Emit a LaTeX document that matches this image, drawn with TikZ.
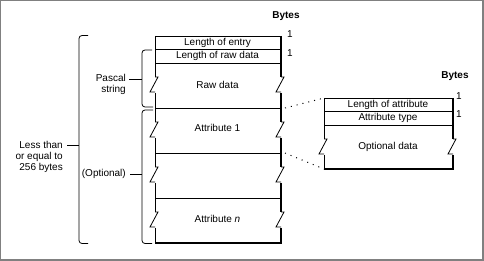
\documentclass[tikz,border=0pt]{standalone}
\usepackage{fontspec}
\setmainfont{Liberation Sans}
\usetikzlibrary{positioning}
\definecolor{framegray}{gray}{0.5}

\begin{document}
\begin{tikzpicture}[x=1pt,y=-1pt,
  lab/.style={font=\fontsize{10}{11}\selectfont,inner sep=0pt},
  bytes/.style={font=\fontsize{10}{11}\selectfont\bfseries,inner sep=0pt},
  boxline/.style={line width=0.8pt},
  shadowline/.style={line width=2.6pt},
  brace/.style={line width=0.8pt,rounded corners=3pt},
  dotline/.style={line width=1pt,dash pattern=on 1pt off 5pt}]
% frame
\fill[framegray] (0,0) rectangle (484,261);
\fill[white] (1.3,1.3) rectangle (481.5,258.7);

% entry box
\foreach \y in {36,49.5,63,108,153,198}
  \draw[boxline] (155,\y) -- (280,\y);
\draw[line width=2pt] (155,243.5) -- (282.4,243.5);
\foreach \a/\b in {36/77,93/122,138/167,183/212,228/243}{
  \draw[boxline] (155,\a) -- (155,\b);
  \draw[shadowline] (281,\a) -- (281,\b);
}
\foreach \yc in {85,130,175,220}{
  \draw[boxline] (155,\yc-8) -- (158,\yc-8) -- (150,\yc+7) -- (155,\yc+7);
  \draw[boxline] (281,\yc-8) -- (284,\yc-8) -- (276,\yc+7) -- (281,\yc+7);
}
\node[lab] (entry) at (217.5,42.75) {Length of entry};
\node[lab] (rawlen) at (217.5,56.25) {Length of raw data};
\node[lab] (raw) at (217.5,85) {Raw data};
\node[lab] (attr1) at (217.5,128) {Attribute 1};
\node[lab] (attrn) at (217.5,219) {Attribute \textit{n}};
\node[bytes] (bytesA) at (286,16) {Bytes};
\node[lab] (oneA) at (290,34) {1};
\node[lab] (oneB) at (290,53) {1};

% attribute box
\foreach \y in {98,111,125}
  \draw[boxline] (324,\y) -- (452,\y);
\draw[line width=2pt] (324,169.5) -- (454.4,169.5);
\foreach \a/\b in {98/139,155/169}{
  \draw[boxline] (324,\a) -- (324,\b);
  \draw[shadowline] (453,\a) -- (453,\b);
}
\draw[boxline] (324,139) -- (327,139) -- (319,154) -- (324,154);
\draw[boxline] (453,139) -- (456,139) -- (448,154) -- (453,154);
\node[lab] (attrlen) at (388,104.5) {Length of attribute};
\node[lab] (attrtype) at (388,118) {Attribute type};
\node[lab] (optdata) at (388,147) {Optional data};
\node[bytes] (bytesB) at (455,76) {Bytes};
\node[lab] (oneC) at (459,96) {1};
\node[lab] (oneD) at (459,114) {1};

% dotted links
\coordinate (a1top) at (285,108);
\coordinate (a1bot) at (285,153);
\coordinate (boxNW) at (324,98);
\coordinate (boxSW) at (324,169);
\draw[dotline] (a1top) -- (boxNW);
\draw[dotline] (a1bot) -- (boxSW);

% braces
\draw[brace] (88,35.5) -- (79,35.5) -- (79,243.5) -- (88,243.5);
\draw[brace] (152,50) -- (142,50) -- (142,107) -- (153,107);
\draw[brace] (153,110) -- (142,110) -- (142,243.5) -- (152,243.5);
\node[lab,align=right,anchor=east] (less) at (63,157) {Less than\\or equal to\\256 bytes};
\node[lab,align=right,anchor=east] (pascal) at (126,84.5) {Pascal\\string};
\node[lab,anchor=east] (opt) at (126,174) {(Optional)};
\coordinate (lessT) at (67,145);
\coordinate (bigB) at (79,145);
\coordinate (pascT) at (129,79);
\coordinate (pascB) at (142,79);
\coordinate (optT) at (130,174);
\coordinate (optB) at (142,174);
\draw[boxline] (lessT) -- (bigB);
\draw[boxline] (pascT) -- (pascB);
\draw[boxline] (optT) -- (optB);
\end{tikzpicture}
\end{document}
